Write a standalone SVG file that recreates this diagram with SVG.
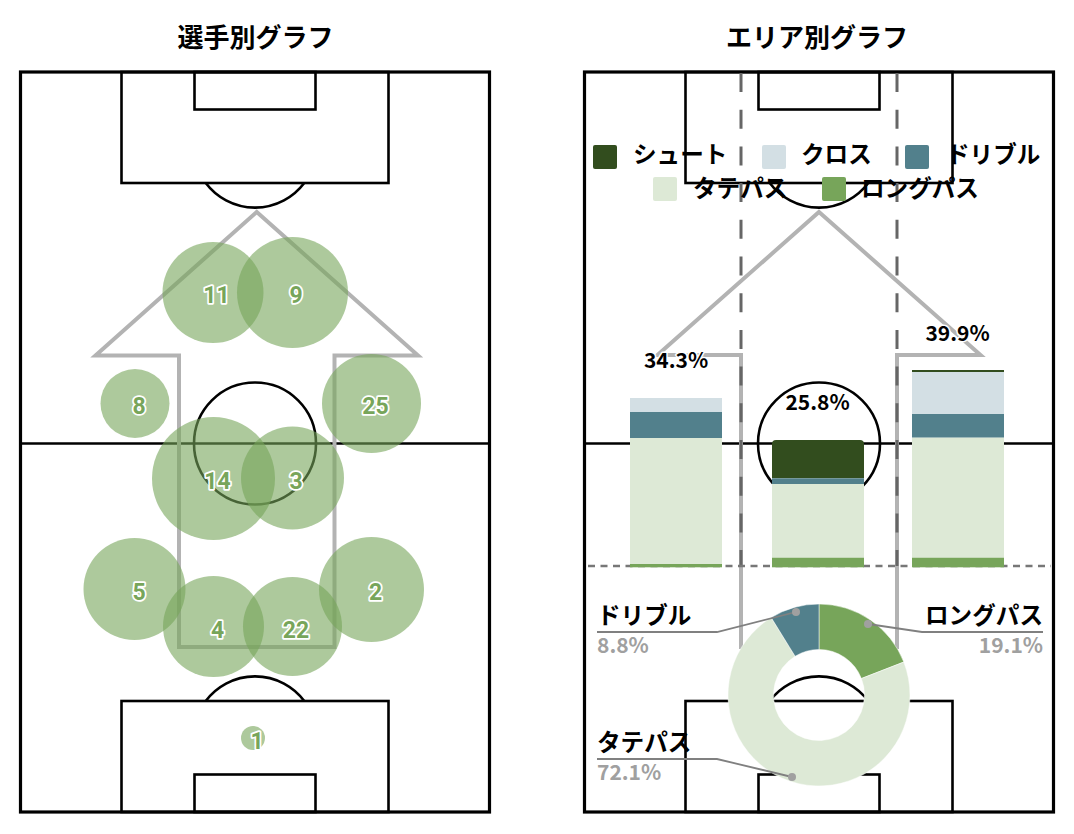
<svg xmlns="http://www.w3.org/2000/svg" xmlns:xlink="http://www.w3.org/1999/xlink" width="1074" height="834" viewBox="0 0 1074 834">
<style>
  text { font-family: "Noto Sans CJK JP", "Noto Sans", sans-serif; }
  .title { font-size: 26px; font-weight: 700; fill: #000; text-anchor: middle; }
  .pl { fill: none; stroke: #000; stroke-width: 2.6; }
  .border { fill: none; stroke: #000; stroke-width: 3.2; }
  .arrow { fill: none; stroke: #b3b3b3; stroke-width: 4; stroke-linejoin: miter; }
  .bub { fill: #77a55a; fill-opacity: 0.6; }
  .num { font-family: Roboto, "Noto Sans", sans-serif; font-size: 23px; font-weight: 700; fill: #77a55a; stroke: #fff; stroke-width: 3.5; paint-order: stroke; stroke-linejoin: round; text-anchor: middle; }
  .zone { stroke: #666; stroke-width: 3; stroke-dasharray: 19 17.7; fill: none; }
  .base { stroke: #777; stroke-width: 2.5; stroke-dasharray: 7 5.5; fill: none; }
  .pct { font-size: 21px; font-weight: 700; fill: #000; stroke: #fff; stroke-width: 3; paint-order: stroke; stroke-linejoin: round; text-anchor: middle; }
  .leg { font-size: 23.6px; font-weight: 700; fill: #000; }
  .cl { font-size: 23.6px; font-weight: 700; fill: #000; }
  .cv { font-size: 21px; font-weight: 700; fill: #a0a0a0; }
  .lead { fill: none; stroke: #808080; stroke-width: 1.8; }
  .dot { fill: #a0a0a0; }
  .shoot { fill: #324d1e; }
  .cross { fill: #d3dfe4; }
  .dribble { fill: #52808c; }
  .tate { fill: #dde9d6; }
  .long { fill: #77a55a; }
</style>
<defs>
  <g id="pitch">
    <rect class="border" x="20.5" y="72" width="469" height="740"/>
    <line class="pl" x1="20.5" y1="443.5" x2="489.5" y2="443.5"/>
    <circle class="pl" cx="255" cy="443.5" r="61"/>
    <rect class="pl" x="121.5" y="72" width="267" height="111"/>
    <rect class="pl" x="194.5" y="72" width="121" height="37.5"/>
    <path class="pl" d="M205.75,183 A61.6,61.6 0 0 0 304.25,183"/>
    <rect class="pl" x="121.5" y="701" width="267" height="111"/>
    <rect class="pl" x="194.5" y="774.5" width="121" height="37.5"/>
    <path class="pl" d="M205.75,701 A61.6,61.6 0 0 1 304.25,701"/>
  </g>
</defs>
<rect x="0" y="0" width="1074" height="834" fill="#fff"/>

<g id="left-panel">
  <text class="title" x="255.5" y="47">選手別グラフ</text>
  <use xlink:href="#pitch" href="#pitch"/>
  <polygon id="left-arrow" class="arrow" points="256.75,212 418,355.5 334.5,355.5 334.5,647 179,647 179,355.5 95.5,355.5"/>
  <g id="p11"><circle class="bub" cx="213" cy="292.5" r="50.5"/><text class="num" x="216.5" y="303">11</text></g>
  <g id="p9"><circle class="bub" cx="292.5" cy="292.5" r="55.5"/><text class="num" x="296" y="303">9</text></g>
  <g id="p8"><circle class="bub" cx="135" cy="403.5" r="34.5"/><text class="num" x="139" y="414">8</text></g>
  <g id="p25"><circle class="bub" cx="371.5" cy="403.5" r="49.5"/><text class="num" x="375.5" y="414">25</text></g>
  <g id="p14"><circle class="bub" cx="213.5" cy="478.5" r="61.5"/><text class="num" x="217.5" y="489">14</text></g>
  <g id="p3"><circle class="bub" cx="292.5" cy="478" r="51.5"/><text class="num" x="296" y="489">3</text></g>
  <g id="p5"><circle class="bub" cx="134.5" cy="589" r="51"/><text class="num" x="139" y="600">5</text></g>
  <g id="p2"><circle class="bub" cx="371.5" cy="589.5" r="52.5"/><text class="num" x="375.5" y="600">2</text></g>
  <g id="p4"><circle class="bub" cx="213.5" cy="626.5" r="50.5"/><text class="num" x="217.5" y="638">4</text></g>
  <g id="p22"><circle class="bub" cx="292.5" cy="626.5" r="49.5"/><text class="num" x="296" y="638">22</text></g>
  <g id="p1"><circle class="bub" cx="253" cy="738" r="12"/><text class="num" x="257" y="749">1</text></g>
</g>

<g id="right-panel">
  <text class="title" x="817" y="47">エリア別グラフ</text>
  <use xlink:href="#pitch" href="#pitch" transform="translate(564,0)"/>
  <polygon id="right-arrow" class="arrow" points="819,212 980.5,355 897,355 897,647 741,647 741,355 657.5,355"/>
  <g id="zone-lines">
    <line class="zone" x1="741" y1="73" x2="741" y2="566"/>
    <line class="zone" x1="897" y1="73" x2="897" y2="566"/>
    <line class="base" x1="588" y1="566" x2="1051" y2="566"/>
  </g>

  <g id="bar-left">
    <rect class="cross" x="630" y="398" width="92" height="14"/>
    <rect class="dribble" x="630" y="412" width="92" height="26"/>
    <rect class="tate" x="630" y="438" width="92" height="126"/>
    <rect class="long" x="630" y="564" width="92" height="3.3"/>
    <text class="pct" x="676" y="368">34.3%</text>
  </g>
  <g id="bar-center">
    <path class="shoot" d="M772,478.3 V444 Q772,440 776,440 H860 Q864,440 864,444 V478.3 Z"/>
    <rect class="dribble" x="772" y="478.3" width="92" height="5.7"/>
    <rect class="tate" x="772" y="484" width="92" height="73.7"/>
    <rect class="long" x="772" y="557.7" width="92" height="9.6"/>
    <text class="pct" x="817.5" y="410">25.8%</text>
  </g>
  <g id="bar-right">
    <rect class="shoot" x="912" y="370" width="92" height="2"/>
    <rect class="cross" x="912" y="372" width="92" height="42"/>
    <rect class="dribble" x="912" y="414" width="92" height="23.7"/>
    <rect class="tate" x="912" y="437.7" width="92" height="120"/>
    <rect class="long" x="912" y="557.7" width="92" height="9.6"/>
    <text class="pct" x="957.5" y="341">39.9%</text>
  </g>

  <g id="legend">
    <rect class="shoot" x="593" y="145" width="24" height="24" rx="2"/>
    <text class="leg" x="633" y="162.5">シュート</text>
    <rect class="cross" x="762" y="145" width="24" height="24" rx="2"/>
    <text class="leg" x="801" y="162.5">クロス</text>
    <rect class="dribble" x="905" y="145" width="24" height="24" rx="2"/>
    <text class="leg" x="946" y="162.5">ドリブル</text>
    <rect class="tate" x="653" y="177" width="24" height="24" rx="2"/>
    <text class="leg" x="693" y="196.5">タテパス</text>
    <rect class="long" x="822" y="177" width="24" height="24" rx="2"/>
    <text class="leg" x="861" y="196.5">ロングパス</text>
  </g>

  <g id="donut">
    <path class="long" stroke="#fff" stroke-width="0.5" d="M819,604 A91,91 0 0 1 903.82,662.04 L861.41,678.52 A45.5,45.5 0 0 0 819,649.5 Z"/>
    <path class="tate" stroke="#fff" stroke-width="0.5" d="M903.82,662.04 A91,91 0 1 1 771.21,617.56 L795.10,656.28 A45.5,45.5 0 1 0 861.41,678.52 Z"/>
    <path class="dribble" stroke="#fff" stroke-width="0.5" d="M771.21,617.56 A91,91 0 0 1 819,604 L819,649.5 A45.5,45.5 0 0 0 795.10,656.28 Z"/>
  </g>

  <g id="callouts">
    <polyline class="lead" points="796,612 717,632 597,632"/>
    <circle class="dot" cx="796" cy="612" r="4"/>
    <text class="cl" x="597" y="624">ドリブル</text>
    <text class="cv" x="597" y="653">8.8%</text>

    <polyline class="lead" points="868,624 922,632 1043,632"/>
    <circle class="dot" cx="868" cy="624" r="4"/>
    <text class="cl" x="1043" y="624" text-anchor="end">ロングパス</text>
    <text class="cv" x="1043" y="653" text-anchor="end">19.1%</text>

    <polyline class="lead" points="792,777 717,759 597,759"/>
    <circle class="dot" cx="792" cy="777" r="4"/>
    <text class="cl" x="597" y="751">タテパス</text>
    <text class="cv" x="597" y="780">72.1%</text>
  </g>
</g>
</svg>
